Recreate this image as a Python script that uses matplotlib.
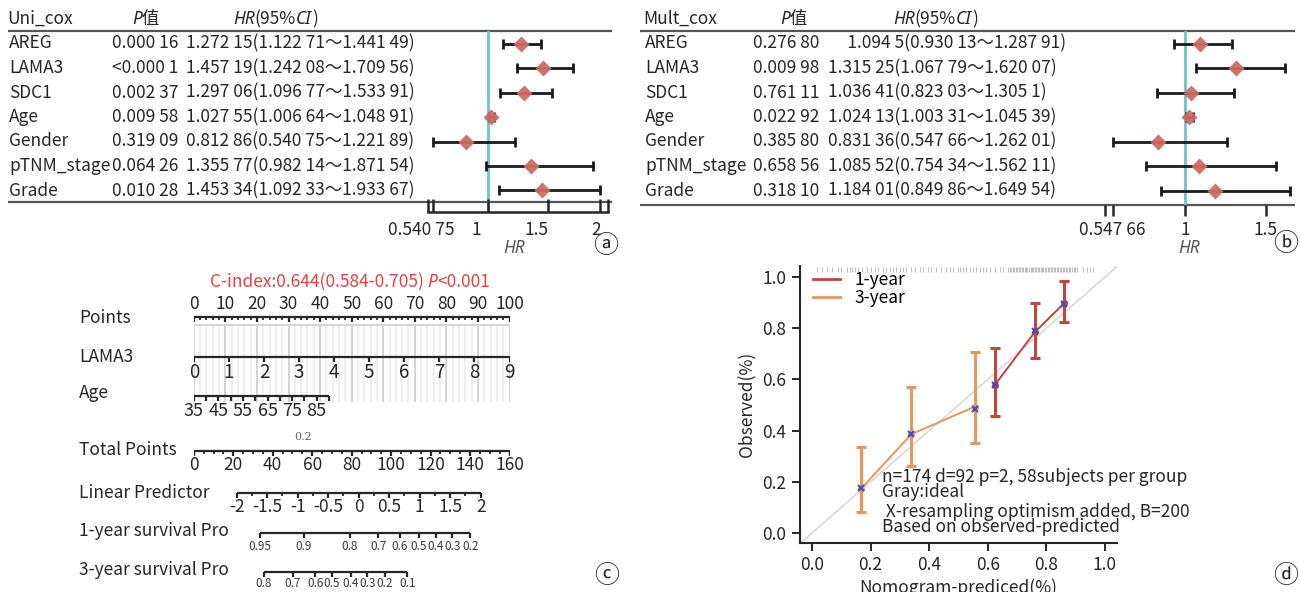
import numpy as np
import matplotlib.pyplot as plt
from matplotlib.transforms import blended_transform_factory
from matplotlib.lines import Line2D

plt.rcParams['font.family'] = ['Noto Sans CJK SC', 'DejaVu Sans']
plt.rcParams['axes.unicode_minus'] = False

# ---------------- data ----------------
genes = ['AREG', 'LAMA3', 'SDC1', 'Age', 'Gender', 'pTNM_stage', 'Grade']

uni_p = ['0.000 16', '<0.000 1', '0.002 37', '0.009 58', '0.319 09', '0.064 26', '0.010 28']
uni_txt = ['1.272 15(1.122 71～1.441 49)', '1.457 19(1.242 08～1.709 56)',
           '1.297 06(1.096 77～1.533 91)', '1.027 55(1.006 64～1.048 91)',
           '0.812 86(0.540 75～1.221 89)', '1.355 77(0.982 14～1.871 54)',
           '1.453 34(1.092 33～1.933 67)']
uni_hr = [1.27215, 1.45719, 1.29706, 1.02755, 0.81286, 1.35577, 1.45334]
uni_lo = [1.12271, 1.24208, 1.09677, 1.00664, 0.54075, 0.98214, 1.09233]
uni_hi = [1.44149, 1.70956, 1.53391, 1.04891, 1.22189, 1.87154, 1.93367]
uni_ticks = [0.5, 0.54075, 1, 1.5, 1.93367, 2]
uni_ticklab = ['', '0.540 75', '1', '1.5', '', '2']

mult_p = ['0.276 80', '0.009 98', '0.761 11', '0.022 92', '0.385 80', '0.658 56', '0.318 10']
mult_txt = ['     1.094 5(0.930 13～1.287 91)', '1.315 25(1.067 79～1.620 07)',
            '1.036 41(0.823 03～1.305 1)', '1.024 13(1.003 31～1.045 39)',
            '0.831 36(0.547 66～1.262 01)', '1.085 52(0.754 34～1.562 11)',
            '1.184 01(0.849 86～1.649 54)']
mult_hr = [1.0945, 1.31525, 1.03641, 1.02413, 0.83136, 1.08552, 1.18401]
mult_lo = [0.93013, 1.06779, 0.82303, 1.00331, 0.54766, 0.75434, 0.84986]
mult_hi = [1.28791, 1.62007, 1.3051, 1.04539, 1.26201, 1.56211, 1.64954]
mult_ticks = [0.5, 0.54766, 1, 1.5]
mult_ticklab = ['', '0.547 66', '1', '1.5']

# nomogram
points_ticks = [0, 10, 20, 30, 40, 50, 60, 70, 80, 90, 100]
lama3_ticks = [0, 1, 2, 3, 4, 5, 6, 7, 8, 9]
lama3_max = 9            # LAMA3 = 9 -> 100 points
age_ticks = [35, 40, 45, 50, 55, 60, 65, 70, 75, 80, 85, 90]
age_labels = [35, 45, 55, 65, 75, 85]
age_pts = (35, 90, 0, 42.8)   # age 35 -> 0 pts, age 90 -> 42.8 pts
total_ticks = [0, 20, 40, 60, 80, 100, 120, 140, 160]
total_max = 160
lp_ticks = [-2, -1.5, -1, -0.5, 0, 0.5, 1, 1.5, 2]
lp_labels = ['-2', '-1.5', '-1', '-0.5', '0', '0.5', '1', '1.5', '2']
lp_total = (-2, 2, 21.7, 145.4)   # linear predictor -> total points
surv1_vals = ['0.95', '0.9', '0.8', '0.7', '0.6', '0.5', '0.4', '0.3', '0.2']
surv1_lp = [-1.618, -0.903, -0.146, 0.320, 0.677, 0.987, 1.261, 1.536, 1.828]
surv3_vals = ['0.8', '0.7', '0.6', '0.5', '0.4', '0.3', '0.2', '0.1']
surv3_lp = [-1.552, -1.082, -0.711, -0.438, -0.126, 0.141, 0.426, 0.797]

# calibration
cal3_pred = [0.166, 0.339, 0.555]
cal3_obs = [0.171, 0.386, 0.493]
cal3_lo = [0.081, 0.262, 0.350]
cal3_hi = [0.335, 0.572, 0.706]
cal3_corr = [0.176, 0.385, 0.483]
cal1_pred = [0.623, 0.760, 0.860]
cal1_obs = [0.577, 0.784, 0.897]
cal1_lo = [0.457, 0.685, 0.826]
cal1_hi = [0.721, 0.900, 0.986]
cal1_corr = [0.580, 0.788, 0.893]
rug = [0.016, 0.033, 0.05, 0.067, 0.09, 0.10, 0.118, 0.13, 0.138, 0.146, 0.158, 0.169,
       0.186, 0.203, 0.215, 0.226, 0.243, 0.254, 0.266, 0.277, 0.288, 0.300, 0.311, 0.322,
       0.339, 0.350, 0.368, 0.379, 0.396, 0.407, 0.424, 0.441, 0.458, 0.470, 0.481, 0.498,
       0.504, 0.515, 0.527, 0.538, 0.549, 0.561, 0.572, 0.583, 0.595, 0.606, 0.623, 0.640,
       0.652, 0.670, 0.675, 0.680, 0.686, 0.690, 0.696, 0.701, 0.705, 0.711, 0.716, 0.720,
       0.726, 0.731, 0.735, 0.741, 0.746, 0.750, 0.755, 0.760, 0.765, 0.770, 0.775, 0.780,
       0.785, 0.790, 0.795, 0.800, 0.806, 0.810, 0.815, 0.820, 0.825, 0.830, 0.835, 0.840,
       0.845, 0.850, 0.856, 0.861, 0.866, 0.871, 0.876, 0.882, 0.888, 0.893, 0.898, 0.903,
       0.926, 0.937, 0.948, 0.960]
cal_notes = ['n=174 d=92 p=2, 58subjects per group', 'Gray:ideal',
             ' X-resampling optimism added, B=200', 'Based on observed-predicted']

# ---------------- figure ----------------
W, H = 1300, 592
fig = plt.figure(figsize=(13, 5.92), dpi=100)


def box(x0, y0, x1, y1):
    # pixel box (origin top-left) -> figure rect
    return [x0 / W, 1 - y1 / H, (x1 - x0) / W, (y1 - y0) / H]


canvas = fig.add_axes([0, 0, 1, 1])
canvas.set_xlim(0, W)
canvas.set_ylim(H, 0)
canvas.axis('off')

DARK = '#262626'
FS = 12.5
ITAL = ['Noto Sans', 'DejaVu Sans']


def rich(x, y, parts, color=DARK, fs=FS):
    t = None
    for s, it in parts:
        kw = dict(fontsize=fs, color=color)
        if it:
            kw.update(style='italic', family=ITAL)
        if t is None:
            t = canvas.text(x, y, s, va='center', ha='left', **kw)
        else:
            t = canvas.annotate(s, xy=(1, 0), xycoords=t, va='bottom', ha='left', **kw)
    return t


ROW0, STEP = 43.5, 24.5


def forest(px0, px1, top, bottom, xlim, hr, lo, hi, ticks, ticklab, lab_dx,
           names, pvals, txts, xname, xp, xt, title, xpt, xht, axis_low):
    ax = fig.add_axes(box(px0, top, px1, bottom))
    ax.patch.set_visible(False)
    ax.set_xlim(*xlim)
    ax.set_ylim((bottom - ROW0) / STEP, (top - ROW0) / STEP)
    for s in ['top', 'right', 'left']:
        ax.spines[s].set_visible(False)
    ax.spines['bottom'].set_visible(axis_low)
    ax.spines['bottom'].set_linewidth(1.8)
    ax.spines['bottom'].set_color(DARK)
    ax.set_yticks([])
    ax.set_xticks(ticks, [''] * len(ticks))
    ax.tick_params(axis='x', direction='in' if axis_low else 'out', length=9.5 if axis_low else 8,
                   width=1.8, color=DARK)
    rows = np.arange(len(hr))
    ax.axvline(1, color='#6cc3cd', lw=2, zorder=1)
    hr = np.array(hr)
    ax.errorbar(hr, rows, xerr=[hr - np.array(lo), np.array(hi) - hr], fmt='none',
                ecolor='#1a1a1a', elinewidth=2, capsize=3.5, capthick=2, zorder=2)
    ax.plot(hr, rows, 'D', color='#cd6b63', ms=8.5, mec='none', alpha=0.95, zorder=3)
    tr = blended_transform_factory(canvas.transData, ax.transData)
    for i in rows:
        ax.text(xname, i, names[i], transform=tr, va='center', fontsize=FS, color=DARK)
        ax.text(xp, i, pvals[i], transform=tr, va='center', fontsize=FS, color=DARK)
        ax.text(xt, i, txts[i], transform=tr, va='center', fontsize=FS, color=DARK)
    trl = blended_transform_factory(ax.transData, canvas.transData)
    for v, l in zip(ticks, ticklab):
        ax.annotate(l, xy=(v, 230), xycoords=trl, xytext=(lab_dx, 0), textcoords='offset pixels',
                    ha='center', va='center', fontsize=FS, color=DARK, annotation_clip=False)
    # header
    canvas.text(xname - 2, 19, title, va='center', fontsize=FS, color=DARK)
    rich(xpt, 19, [('P', True), ('值', False)])
    rich(xht, 19, [('HR', True), ('(95%', False), ('CI', True), (')', False)])
    return ax


# panel a
forest(428, 608, 31, 212, (0.5, 2.0), uni_hr, uni_lo, uni_hi, uni_ticks, uni_ticklab, -12,
       genes, uni_p, uni_txt, 9, 112, 186, 'Uni_cox', 132, 233, True)
canvas.hlines([31, 202], 8, 612, color='#555555', lw=1.6)
canvas.text(514, 248, 'HR', style='italic', family=ITAL, fontsize=FS, color='#555555',
            ha='center', va='center')

# panel b
forest(1105, 1295, 31, 205, (0.5, 1.683), mult_hr, mult_lo, mult_hi, mult_ticks, mult_ticklab, 0,
       genes, mult_p, mult_txt, 645, 753, 828, 'Mult_cox', 780, 893, False)
canvas.hlines([31, 205], 640, 1295, color='#555555', lw=1.6)
canvas.text(1189, 248, 'HR', style='italic', family=ITAL, fontsize=FS, color='#555555',
            ha='center', va='center')

# ---------------- panel c: nomogram ----------------
axc = fig.add_axes(box(193.8, 265, 509.5, 592))
axc.set_xlim(0, 100)
axc.set_ylim(592, 265)
axc.axis('off')


def lin(v, a):
    v0, v1, p0, p1 = a
    return p0 + (np.asarray(v, dtype=float) - v0) * (p1 - p0) / (v1 - v0)


def nomo(y, pos, labs, minor=(), fs=FS, dy=14, maj=5, mnr=3, lw=1.6, allpos=None, color=DARK):
    pos = np.asarray(pos, dtype=float)
    span = pos if allpos is None else np.asarray(allpos, dtype=float)
    axc.hlines(y, span.min(), span.max(), color=DARK, lw=lw)
    axc.vlines(span, y, y + maj, color=DARK, lw=lw)
    if len(minor):
        axc.vlines(minor, y, y + mnr, color=DARK, lw=1.3)
    for p, l in zip(pos, labs):
        axc.text(p, y + dy, l, ha='center', va='center', fontsize=fs, color=color)


# light grid behind
grid_minor = np.arange(0, 101, 2)
axc.vlines(grid_minor, 325, 402, color='#ececec', lw=1.2, zorder=0)
axc.vlines(points_ticks, 325, 402, color='#d4d4d4', lw=1.4, zorder=0)
axc.hlines(325, 0, 100, color='#d4d4d4', lw=1.4, zorder=0)

nomo(317, points_ticks, [str(v) for v in points_ticks],
     minor=[v for v in np.arange(0, 101, 2) if v % 10], dy=-13)
lama_pos = lin(lama3_ticks, (0, lama3_max, 0, 100))
nomo(357, lama_pos, [str(v) for v in lama3_ticks], fs=13.5, dy=15)
age_pos = lin(age_ticks, age_pts)
nomo(395.5, lin(age_labels, age_pts), [str(v) for v in age_labels], fs=13, dy=15,
     allpos=age_pos)
tot = lambda v: lin(v, (0, total_max, 0, 100))
nomo(451, tot(total_ticks), [str(v) for v in total_ticks],
     minor=tot([v for v in np.arange(0, 161, 5) if v % 20]), dy=14.5)
lp2pts = lambda v: tot(lin(v, lp_total))
nomo(493, lp2pts(lp_ticks), lp_labels, minor=lp2pts(np.arange(-1.75, 2, 0.5)), dy=14)
nomo(532.7, lp2pts(surv1_lp), surv1_vals, fs=8.5, dy=14, color='#3a3a3a')
nomo(571.7, lp2pts(surv3_lp), surv3_vals, fs=8.5, dy=12, color='#3a3a3a')

for y, s in [(317.7, 'Points'), (356.7, 'LAMA3'), (393, 'Age'), (450, 'Total Points'),
             (492.7, 'Linear Predictor'), (531, '1-year survival Pro'), (570, '3-year survival Pro')]:
    canvas.text(79, y, s, va='center', fontsize=FS, color=DARK)
canvas.text(303, 437, '0.2', family='DejaVu Serif', fontsize=8, color='#666666',
            ha='center', va='center')
rich(210, 282, [('C-index:0.644(0.584-0.705) ', False), ('P', True), ('<0.001', False)],
     color='#e8413c')

# ---------------- panel d: calibration ----------------
axd = fig.add_axes(box(799.5, 266, 1116.6, 542.7))
axd.patch.set_visible(False)
axd.set_xlim(-0.0427, 1.0396)
axd.set_ylim(-0.0379, 1.043)
axd.spines[['top', 'right']].set_visible(False)
for s in ['left', 'bottom']:
    axd.spines[s].set_linewidth(1.5)
    axd.spines[s].set_color(DARK)
ticks = [0, 0.2, 0.4, 0.6, 0.8, 1.0]
axd.set_xticks(ticks, [f'{t:.1f}' for t in ticks])
axd.set_yticks(ticks, [f'{t:.1f}' for t in ticks])
axd.tick_params(labelsize=FS, length=6, width=1.4, color=DARK, labelcolor=DARK)
axd.plot([-0.05, 1.05], [-0.05, 1.05], color='#d9d9d9', lw=1.2, zorder=1)
axd.vlines(rug, 1.02, 1.04, color='#8c8c8c', lw=0.8, alpha=0.55, clip_on=False)

RED, ORANGE = '#c4453c', '#e8965a'
axd.errorbar(cal3_pred, cal3_obs, yerr=[np.subtract(cal3_obs, cal3_lo), np.subtract(cal3_hi, cal3_obs)],
             color=ORANGE, lw=1.4, marker='o', ms=4, elinewidth=2.2, capsize=3.5, capthick=2.2, zorder=2)
axd.errorbar(cal1_pred, cal1_obs, yerr=[np.subtract(cal1_obs, cal1_lo), np.subtract(cal1_hi, cal1_obs)],
             color=RED, lw=1.4, marker='o', ms=4, elinewidth=2.2, capsize=3.5, capthick=2.2, zorder=2)
axd.plot(cal3_pred + cal1_pred, cal3_corr + cal1_corr, 'x', color='#3d4fc4', ms=5, mew=1.5, zorder=3)
axd.legend([Line2D([], [], color=RED, lw=2), Line2D([], [], color=ORANGE, lw=2)],
           ['1-year', '3-year'], loc='upper left', bbox_to_anchor=(0.025, 1.0), frameon=False,
           fontsize=FS, handlelength=1.6, labelspacing=0.0, borderaxespad=0.2,
           handletextpad=0.8, borderpad=0.1)
for y, s in zip([0.220, 0.160, 0.083, 0.025], cal_notes):
    axd.text(0.238, y, s, fontsize=FS, color=DARK, va='center')
axd.set_ylabel('Observed(%)', fontsize=FS, color=DARK, labelpad=4)
axd.set_xlabel('Nomogram-prediced(%)', fontsize=FS, color=DARK, labelpad=3)

# panel letters
for x, y, s in [(606, 246, 'ⓐ'), (1286, 244, 'ⓑ'), (607, 576, 'ⓒ'), (1286, 576, 'ⓓ')]:
    canvas.text(x, y, s, fontsize=18, color=DARK, ha='center', va='center')

fig.savefig('out.png', dpi=100)
